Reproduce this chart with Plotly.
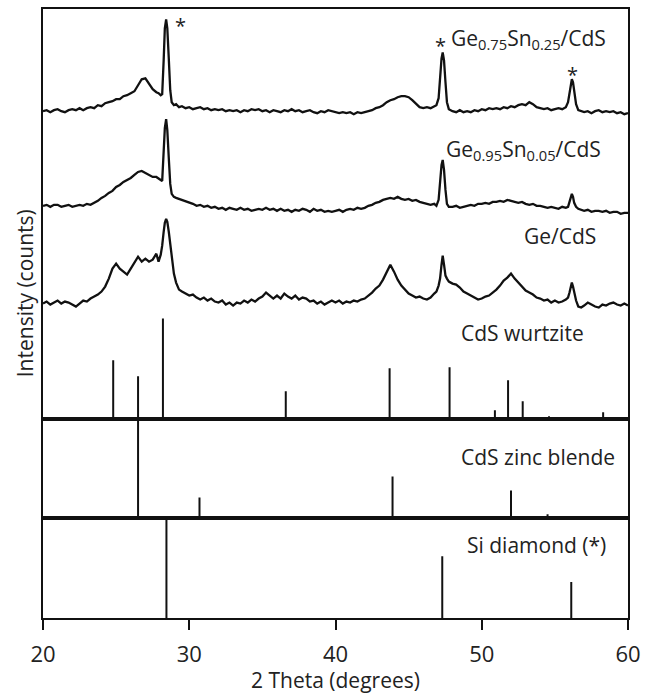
import plotly.graph_objects as go
from plotly.subplots import make_subplots

# ---------------- data (2 theta in degrees, intensity in arbitrary units, stacked) -------------
two_theta = (
    [20.0, 20.25, 20.5, 20.75, 21.0, 21.25, 21.5, 21.75, 22.0, 22.25, 22.5, 22.75,
     23.0, 23.25, 23.5, 23.75, 24.0, 24.25, 24.5, 24.75, 25.0, 25.25, 25.5, 25.75,
     26.0, 26.25, 26.5, 26.75, 27.0, 27.25, 27.5, 27.75]
    + [27.9, 28.05, 28.15, 28.25, 28.33, 28.42, 28.5, 28.6, 28.7, 28.8, 28.95, 29.1, 29.3, 29.5]
    + [29.75,
       30.0, 30.25, 30.5, 30.75, 31.0, 31.25, 31.5, 31.75, 32.0, 32.25, 32.5, 32.75,
       33.0, 33.25, 33.5, 33.75, 34.0, 34.25, 34.5, 34.75, 35.0, 35.25, 35.5, 35.75,
       36.0, 36.25, 36.5, 36.75, 37.0, 37.25, 37.5, 37.75, 38.0, 38.25, 38.5, 38.75,
       39.0, 39.25, 39.5, 39.75, 40.0, 40.25, 40.5, 40.75, 41.0, 41.25, 41.5, 41.75,
       42.0, 42.25, 42.5, 42.75, 43.0, 43.25, 43.5, 43.75, 44.0, 44.25, 44.5, 44.75,
       45.0, 45.25, 45.5, 45.75, 46.0, 46.25, 46.5, 46.75]
    + [46.9, 47.05, 47.15, 47.25, 47.33, 47.42, 47.52, 47.62, 47.75]
    + [48.0, 48.25, 48.5, 48.75, 49.0, 49.25, 49.5, 49.75, 50.0, 50.25, 50.5, 50.75,
       51.0, 51.25, 51.5, 51.75, 52.0, 52.25, 52.5, 52.75, 53.0, 53.25, 53.5, 53.75,
       54.0, 54.25, 54.5, 54.75, 55.0, 55.25, 55.5, 55.75]
    + [55.9, 56.0, 56.08, 56.16, 56.24, 56.32, 56.45, 56.6, 56.8]
    + [57.0, 57.25, 57.5, 57.75, 58.0, 58.25, 58.5, 58.75, 59.0, 59.25, 59.5, 59.75, 60.0]
)

ge075_sn025 = (
    [309, 310, 308, 310, 311, 309, 308, 310, 311, 310, 312, 310,
     312, 313, 312, 315, 314, 317, 318, 319, 321, 321, 324, 325,
     327, 329, 335, 341, 342, 336, 331, 328]
    + [327, 325, 326, 360, 392, 401, 392, 362, 330, 318, 315, 316, 313, 314]
    + [312,
       313, 311, 312, 313, 311, 312, 310, 311, 310, 311, 309, 310,
       309, 310, 308, 310, 309, 311, 310, 311, 309, 310, 308, 310,
       309, 308, 310, 309, 311, 309, 310, 308, 309, 310, 308, 307,
       309, 308, 310, 309, 308, 307, 308, 307, 308, 306, 308, 307,
       308, 309, 310, 312, 313, 315, 318, 320, 321, 323, 324, 324,
       323, 320, 316, 313, 312, 313, 312, 314]
    + [315, 322, 345, 362, 368, 360, 338, 318, 311]
    + [309, 308, 310, 308, 309, 308, 310, 309, 311, 310, 312, 311,
       312, 311, 313, 312, 314, 313, 315, 316, 315, 318, 316, 313,
       312, 311, 312, 310, 311, 312, 311, 313]
    + [318, 326, 335, 341, 338, 328, 316, 310, 309]
    + [308, 309, 307, 309, 310, 308, 309, 308, 309, 307, 308, 306, 307]
)

ge095_sn005 = (
    [214, 215, 213, 215, 215, 213, 214, 215, 213, 214, 215, 214,
     216, 215, 217, 219, 222, 224, 227, 229, 233, 235, 238, 240,
     242, 245, 248, 249, 247, 245, 243, 243]
    + [241, 240, 239, 268, 292, 301, 290, 262, 236, 226, 223, 222, 221, 220]
    + [219,
       217, 216, 214, 215, 213, 214, 212, 213, 211, 212, 210, 212,
       211, 210, 212, 210, 211, 209, 210, 211, 210, 212, 210, 211,
       209, 211, 209, 210, 208, 210, 209, 211, 210, 208, 211, 209,
       210, 208, 209, 208, 209, 210, 208, 210, 211, 210, 212, 211,
       212, 214, 215, 217, 218, 220, 221, 222, 221, 223, 221, 220,
       221, 219, 220, 218, 217, 216, 215, 216]
    + [214, 220, 240, 255, 260, 250, 230, 216, 213]
    + [213, 214, 212, 213, 214, 215, 214, 216, 216, 217, 216, 218,
       218, 219, 218, 220, 219, 218, 217, 218, 216, 215, 216, 214,
       214, 213, 212, 213, 212, 211, 213, 212]
    + [213, 217, 222, 226, 223, 217, 213, 211, 210]
    + [209, 210, 208, 209, 209, 208, 209, 207, 208, 208, 206, 207, 207]
)

ge_cds = (
    [116, 118, 115, 117, 119, 116, 118, 117, 115, 113, 116, 119,
     118, 121, 123, 125, 128, 133, 141, 151, 156, 151, 148, 145,
     151, 157, 163, 158, 161, 158, 160, 166]
    + [158, 165, 174, 188, 197, 201, 198, 188, 176, 160, 146, 137, 130, 128]
    + [126,
       124, 125, 122, 120, 122, 119, 121, 118, 117, 119, 115, 117,
       114, 117, 116, 119, 117, 120, 118, 121, 123, 127, 124, 121,
       124, 121, 126, 123, 121, 124, 120, 122, 121, 118, 119, 116,
       118, 115, 117, 119, 117, 119, 116, 118, 117, 119, 118, 120,
       121, 124, 127, 131, 134, 140, 147, 155, 148, 140, 134, 130,
       126, 124, 122, 123, 121, 120, 122, 126]
    + [128, 134, 141, 155, 164, 155, 144, 141, 138]
    + [136, 135, 132, 128, 126, 124, 122, 120, 121, 123, 124, 127,
       130, 134, 139, 142, 146, 141, 137, 133, 129, 127, 125, 122,
       121, 119, 120, 117, 119, 117, 118, 120]
    + [122, 127, 133, 137, 133, 126, 119, 113, 112]
    + [114, 117, 115, 113, 112, 115, 114, 116, 117, 115, 114, 116, 114]
)

wurtzite_pos = [24.8, 26.5, 28.2, 36.6, 43.7, 47.8, 50.9, 51.8, 52.8, 54.6, 58.3]
wurtzite_int = [59, 43, 101, 28, 51, 52, 9, 39, 18, 3, 7]

zincblende_pos = [26.5, 30.7, 43.9, 52.0, 54.5]
zincblende_int = [100, 21, 42, 28, 4]

si_pos = [28.44, 47.30, 56.12]
si_int = [100, 62, 36]

x_ticks = [20, 30, 40, 50, 60]

for name, arr in [("ge075", ge075_sn025), ("ge095", ge095_sn005), ("ge", ge_cds)]:
    assert len(arr) == len(two_theta), (name, len(arr), len(two_theta))

# ---------------- figure ----------------
W, H = 648, 696
ML, MR, MT, MB = 43, 14, 7, 78
PW, PH = W - ML - MR, H - MT - MB

INK = "#111111"
TXT = "#222222"
FONT = "Open Sans"

fig = make_subplots(rows=3, cols=1, shared_xaxes=True, vertical_spacing=0,
                    row_heights=[411.5, 99.5, 100])

for ys in [ge075_sn025, ge095_sn005, ge_cds]:
    fig.add_trace(go.Scatter(x=two_theta, y=ys, mode="lines",
                             line=dict(color=INK, width=2.3), showlegend=False,
                             hoverinfo="skip"), row=1, col=1)


def sticks(pos, inten):
    sx, sy = [], []
    for p, v in zip(pos, inten):
        sx += [p, p, None]
        sy += [0, v, None]
    return sx, sy


for r, (pos, inten) in enumerate([(wurtzite_pos, wurtzite_int),
                                  (zincblende_pos, zincblende_int),
                                  (si_pos, si_int)], start=1):
    sx, sy = sticks(pos, inten)
    fig.add_trace(go.Scatter(x=sx, y=sy, mode="lines",
                             line=dict(color=INK, width=2), showlegend=False,
                             hoverinfo="skip"), row=r, col=1)

axis_common = dict(showline=True, linecolor=INK, linewidth=2, mirror=True,
                   showgrid=False, zeroline=False)

for r in (1, 2, 3):
    fig.update_xaxes(range=[20, 60], **axis_common, row=r, col=1)
    fig.update_yaxes(showticklabels=False, ticks="", **axis_common, row=r, col=1)

fig.update_yaxes(range=[0, 411.5], row=1, col=1)
fig.update_yaxes(range=[0, 99.5], row=2, col=1)
fig.update_yaxes(range=[0, 100], row=3, col=1)

fig.update_xaxes(showticklabels=False, ticks="", row=1, col=1)
fig.update_xaxes(showticklabels=False, ticks="", row=2, col=1)
fig.update_xaxes(tickvals=x_ticks, ticktext=[str(t) for t in x_ticks],
                 ticks="outside", ticklen=10, tickwidth=2, tickcolor=INK,
                 ticklabelstandoff=6,
                 tickfont=dict(family=FONT, size=22, color=TXT),
                 row=3, col=1)


def px2paper(px, py):
    return (px - ML) / PW, (H - MB - py) / PH


anns = []


def add_text(text, px, py, size=21, xanchor="right", angle=0):
    x, y = px2paper(px, py)
    anns.append(dict(text=text, x=x, y=y, xref="paper", yref="paper",
                     xanchor=xanchor, yanchor="middle", showarrow=False,
                     textangle=angle,
                     font=dict(family=FONT, size=size, color=TXT)))


add_text("Ge<sub>0.75</sub>Sn<sub>0.25</sub>/CdS", 614, 37)
add_text("Ge<sub>0.95</sub>Sn<sub>0.05</sub>/CdS", 609, 148)
add_text("Ge/CdS", 604, 235)
add_text("CdS wurtzite", 592, 332)
add_text("CdS zinc blende", 623, 456)
add_text("Si diamond (*)", 614, 545)
add_text("*", 181.7, 24, size=20, xanchor="center")
add_text("*", 445, 44, size=20, xanchor="center")
add_text("*", 577.7, 73, size=20, xanchor="center")
add_text("2 Theta (degrees)", ML + PW / 2, 680, size=21, xanchor="center")
add_text("Intensity (counts)", 25, 292, size=21, xanchor="center", angle=-90)

fig.update_layout(width=W, height=H, margin=dict(l=ML, r=MR, t=MT, b=MB),
                  paper_bgcolor="white", plot_bgcolor="white",
                  font=dict(family=FONT, color=TXT),
                  annotations=anns, showlegend=False)

fig.write_html("out.html")
